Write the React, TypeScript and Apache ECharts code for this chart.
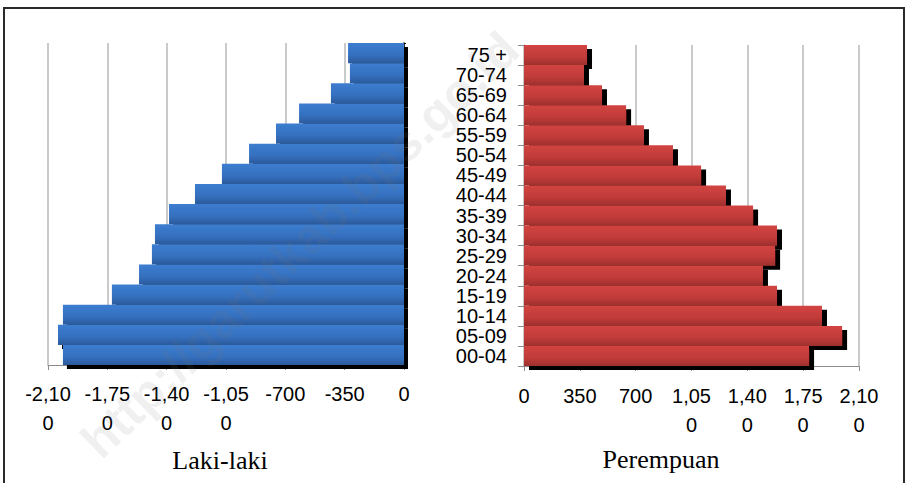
import React, { useEffect, useRef } from "react";
import * as echarts from "echarts";

// Age groups, listed from top of the pyramid to the bottom
const ageGroups = [
  "75 +", "70-74", "65-69", "60-64", "55-59", "50-54", "45-49", "40-44",
  "35-39", "30-34", "25-29", "20-24", "15-19", "10-14", "05-09", "00-04",
];
// Laki-laki (male) counts, same order as ageGroups
const maleValues = [330, 319, 431, 619, 755, 914, 1074, 1233, 1386, 1469, 1487, 1563, 1723, 2012, 2041, 2012];
// Perempuan (female) counts, same order as ageGroups
const femaleValues = [395, 376, 489, 640, 752, 934, 1110, 1266, 1436, 1586, 1574, 1498, 1586, 1868, 1994, 1787];

// Tick values and their (wrapped) labels as printed in the chart
const leftTickValues = [-2100, -1750, -1400, -1050, -700, -350, 0];
const leftTickLabels = ["-2,10\n0", "-1,75\n0", "-1,40\n0", "-1,05\n0", "-700", "-350", "0"];
const rightTickValues = [0, 350, 700, 1050, 1400, 1750, 2100];
const rightTickLabels = ["0", "350", "700", "1,05\n0", "1,40\n0", "1,75\n0", "2,10\n0"];

const leftTitle = "Laki-laki";
const rightTitle = "Perempuan";
const watermark = "http://garutkab.bps.go.id";

const SANS = "'Liberation Sans', Arial, sans-serif";
const SERIF = "'Liberation Serif', 'Times New Roman', serif";

export default function App() {
  const ref = useRef<HTMLDivElement>(null);

  useEffect(() => {
    if (!ref.current) return;
    const chart = echarts.init(ref.current, null, { renderer: "svg" });

    const blueGrad = new echarts.graphic.LinearGradient(0, 0, 0, 1, [
      { offset: 0, color: "#3c7dd0" },
      { offset: 0.6, color: "#3570bf" },
      { offset: 1, color: "#2b5a9b" },
    ]);
    const redGrad = new echarts.graphic.LinearGradient(0, 0, 0, 1, [
      { offset: 0, color: "#d24442" },
      { offset: 0.6, color: "#c03b39" },
      { offset: 1, color: "#9e302d" },
    ]);

    const leftFmt = (v: number) => {
      const i = leftTickValues.indexOf(v);
      return i >= 0 ? leftTickLabels[i] : "";
    };
    const rightFmt = (v: number) => {
      const i = rightTickValues.indexOf(v);
      return i >= 0 ? rightTickLabels[i] : "";
    };

    const gridGray = "#b8b8b8";
    const axisGray = "#8c8c8c";

    chart.setOption({
      animation: false,
      backgroundColor: "#ffffff",
      grid: [
        { left: 48, width: 356, top: 43, height: 322 },
        { left: 524, width: 335, top: 45, height: 321 },
      ],
      xAxis: [
        {
          type: "value",
          gridIndex: 0,
          min: -2100,
          max: 0,
          interval: 350,
          axisLine: { show: true, lineStyle: { color: axisGray, width: 1 } },
          axisTick: { show: true, length: 5, lineStyle: { color: axisGray } },
          axisLabel: {
            formatter: leftFmt,
            fontFamily: SANS,
            fontSize: 20,
            lineHeight: 29,
            margin: 14,
            color: "#000",
            align: "center",
          },
          splitLine: { show: true, lineStyle: { color: gridGray, width: 1.5 } },
        },
        {
          type: "value",
          gridIndex: 1,
          min: 0,
          max: 2100,
          interval: 350,
          axisLine: { show: true, lineStyle: { color: axisGray, width: 1 } },
          axisTick: { show: true, length: 5, lineStyle: { color: axisGray } },
          axisLabel: {
            formatter: rightFmt,
            fontFamily: SANS,
            fontSize: 20,
            lineHeight: 28.5,
            margin: 16,
            color: "#000",
            align: "center",
          },
          splitLine: { show: true, lineStyle: { color: gridGray, width: 1.5 } },
        },
      ],
      yAxis: [
        {
          type: "category",
          gridIndex: 0,
          data: ageGroups,
          inverse: true,
          position: "right",
          axisLine: { show: true, lineStyle: { color: "#000", width: 1.5 } },
          axisTick: { show: true, length: 2, lineStyle: { color: "#000" } },
          axisLabel: { show: false },
          splitLine: { show: false },
        },
        {
          type: "category",
          gridIndex: 1,
          data: ageGroups,
          inverse: true,
          position: "left",
          axisLine: { show: true, lineStyle: { color: axisGray, width: 1 } },
          axisTick: { show: true, length: 6, lineStyle: { color: axisGray } },
          axisLabel: {
            interval: 0,
            fontFamily: SANS,
            fontSize: 20,
            lineHeight: 20,
            margin: 17,
            color: "#000",
          },
          splitLine: { show: false },
        },
      ],
      series: [
        {
          type: "bar",
          name: leftTitle,
          xAxisIndex: 0,
          yAxisIndex: 0,
          data: maleValues.map((v) => -v),
          barCategoryGap: "0%",
          itemStyle: {
            color: blueGrad,
            shadowColor: "#000",
            shadowOffsetX: 4,
            shadowOffsetY: 4,
            shadowBlur: 0,
          },
        },
        {
          type: "bar",
          name: rightTitle,
          xAxisIndex: 1,
          yAxisIndex: 1,
          data: femaleValues,
          barCategoryGap: "0%",
          itemStyle: {
            color: redGrad,
            shadowColor: "#000",
            shadowOffsetX: 5,
            shadowOffsetY: 4,
            shadowBlur: 0,
          },
        },
      ],
      graphic: [
        {
          type: "rect",
          shape: { x: 4, y: 8, width: 900, height: 490 },
          style: { fill: "none", stroke: "#2a2a2a", lineWidth: 2 },
          z: 100,
          silent: true,
        },
        {
          type: "text",
          x: 220,
          y: 460,
          style: {
            text: leftTitle,
            font: `26px ${SERIF}`,
            fill: "#000",
            textAlign: "center",
            textVerticalAlign: "middle",
          },
        },
        {
          type: "text",
          x: 661,
          y: 459,
          style: {
            text: rightTitle,
            font: `26px ${SERIF}`,
            fill: "#000",
            textAlign: "center",
            textVerticalAlign: "middle",
          },
        },
        {
          type: "text",
          x: 300,
          y: 245,
          rotation: 0.77,
          z: 50,
          silent: true,
          style: {
            text: watermark,
            font: `bold 50px ${SANS}`,
            fill: "rgba(120,120,120,0.11)",
            textAlign: "center",
            textVerticalAlign: "middle",
          },
        },
      ],
    });

    return () => chart.dispose();
  }, []);

  return (
    <div
      ref={ref}
      style={{ position: "fixed", left: 0, top: 0, width: 906, height: 483 }}
    />
  );
}
